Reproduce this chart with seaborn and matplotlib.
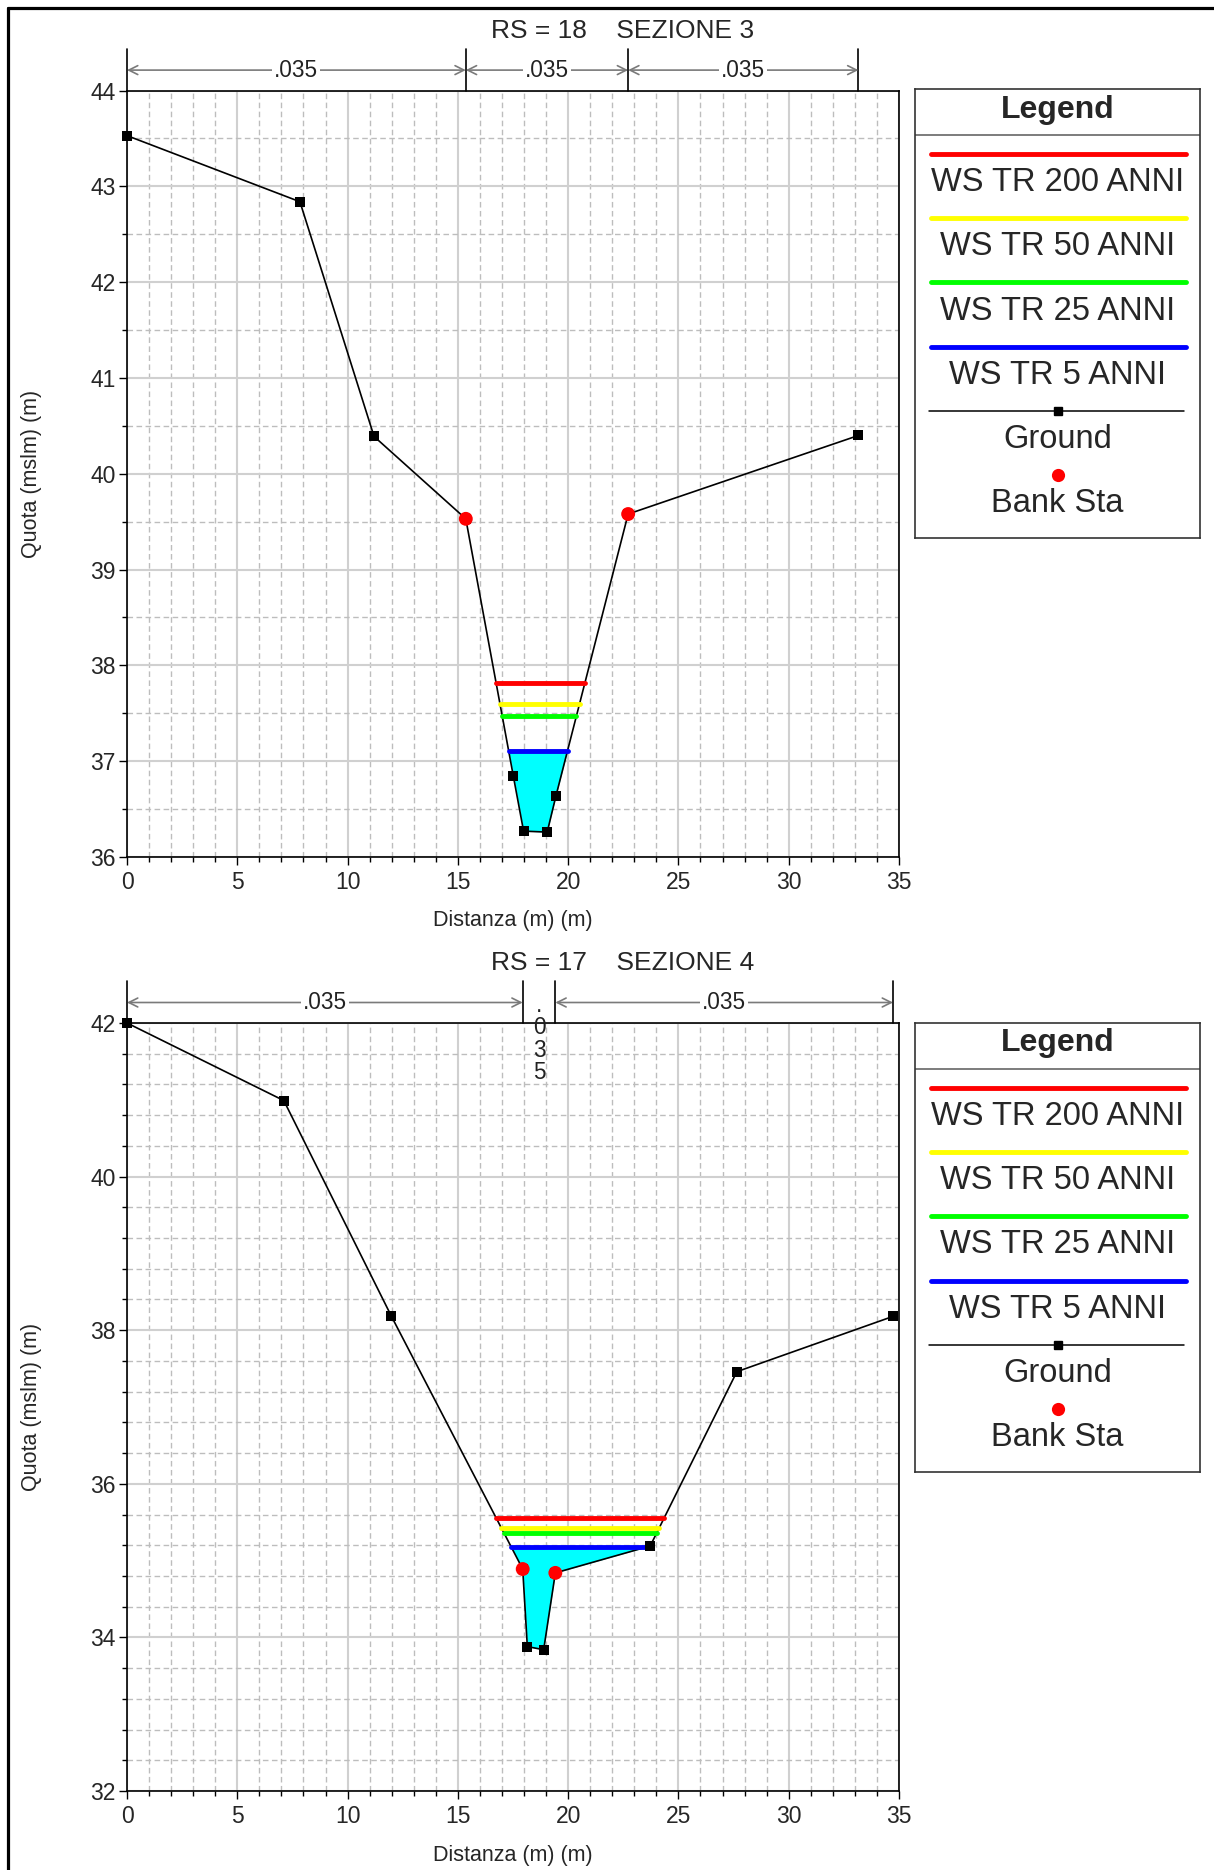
import numpy as np
import matplotlib
matplotlib.use("Agg")
import matplotlib.pyplot as plt
import seaborn as sns
from matplotlib.ticker import MultipleLocator
from matplotlib.lines import Line2D

# ---------------- data ----------------
titles = ["RS = 18    SEZIONE 3", "RS = 17    SEZIONE 4"]

sta1 = [0.0, 7.84, 11.2, 15.36, 17.51, 17.98, 19.05, 19.45, 22.72, 33.16]
elev1 = [43.53, 42.84, 40.39, 39.53, 36.85, 36.27, 36.26, 36.64, 39.58, 40.40]
bank1 = [15.36, 22.72]
ws1 = [37.82, 37.60, 37.47, 37.11]

sta2 = [0.0, 7.11, 11.99, 17.94, 18.15, 18.89, 19.42, 23.72, 27.65, 34.73]
elev2 = [42.0, 40.99, 38.18, 34.89, 33.88, 33.84, 34.84, 35.19, 37.46, 38.18]
bank2 = [17.94, 19.42]
ws2 = [35.55, 35.43, 35.36, 35.18]

n_values = [".035", ".035", ".035"]

ws_labels = ["WS TR 200 ANNI", "WS TR 50 ANNI", "WS TR 25 ANNI", "WS TR 5 ANNI"]
ws_colors = ["#FF0000", "#FFFF00", "#00FF00", "#0000FF"]

x_ticks = [0, 5, 10, 15, 20, 25, 30, 35]

# ---------------- style ----------------
sns.set_style("white")
plt.rcParams["font.family"] = ["Liberation Sans", "DejaVu Sans"]

W, H = 1214, 1870
fig = plt.figure(figsize=(W / 100, H / 100), dpi=100)


def fx(px):
    return px / W


def fy(py):
    return 1 - py / H


def crossing(sta, elev, w):
    sta = np.asarray(sta)
    elev = np.asarray(elev)
    i0 = int(np.argmin(elev))
    i = i0
    while i > 0 and elev[i - 1] < w:
        i -= 1
    j = i - 1
    xl = sta[j] + (w - elev[j]) / (elev[i] - elev[j]) * (sta[i] - sta[j])
    k = i0
    while k < len(sta) - 1 and elev[k + 1] < w:
        k += 1
    m = k + 1
    xr = sta[k] + (w - elev[k]) / (elev[m] - elev[k]) * (sta[m] - sta[k])
    return xl, xr


sections = [
    dict(title=titles[0], sta=sta1, elev=elev1, bank=bank1, ws=ws1,
         ylim=(36, 44), ymaj=1, ymin=0.5, top=90.6, bot=857.0,
         ltop=89.4),
    dict(title=titles[1], sta=sta2, elev=elev2, bank=bank2, ws=ws2,
         ylim=(32, 42), ymaj=2, ymin=0.4, top=1023.0, bot=1791.0,
         ltop=1023.2),
]

for sec in sections:
    top, bot = sec["top"], sec["bot"]
    hpx = bot - top
    ax = fig.add_axes([fx(127), fy(bot), (899 - 127) / W, hpx / H])
    ax.set_xlim(0, 35)
    ax.set_ylim(*sec["ylim"])
    ax.set_axisbelow(True)

    sta = np.asarray(sec["sta"])
    elev = np.asarray(sec["elev"])

    # water fill (lowest profile)
    w_low = sec["ws"][-1]
    xl, xr = crossing(sta, elev, w_low)
    xx = np.linspace(xl, xr, 600)
    gg = np.interp(xx, sta, elev)
    ax.fill_between(xx, gg, w_low, color="#00FFFF", lw=0, zorder=2)

    # ground line
    sns.lineplot(x=sta, y=elev, ax=ax, color="black", lw=1.2, sort=False,
                 zorder=3, legend=False)

    # water surfaces
    for w, c in zip(sec["ws"], ws_colors):
        a, b = crossing(sta, elev, w)
        sns.lineplot(x=[a, b], y=[w, w], ax=ax, color=c, lw=3.5,
                     solid_capstyle="round", zorder=4, legend=False)

    # ground points
    sns.scatterplot(x=sta, y=elev, ax=ax, marker="s", color="black", s=42,
                    edgecolor="black", linewidth=0, zorder=6, clip_on=False,
                    legend=False)
    # bank stations
    bank_elev = np.interp(sec["bank"], sta, elev)
    sns.scatterplot(x=sec["bank"], y=bank_elev, ax=ax, color="#FF0000",
                    s=100, edgecolor="none", linewidth=0, zorder=7,
                    clip_on=False, legend=False)

    # axes styling
    ax.set_xticks(x_ticks)
    ax.xaxis.set_minor_locator(MultipleLocator(1))
    ax.yaxis.set_major_locator(MultipleLocator(sec["ymaj"]))
    ax.yaxis.set_minor_locator(MultipleLocator(sec["ymin"]))
    ax.grid(which="major", color="#d0d0d0", lw=1.5, ls="-")
    ax.grid(which="minor", color="#bdbdbd", lw=1.0, ls=(0, (4, 2.5)))
    ax.tick_params(axis="both", which="both", bottom=True, left=True,
                   top=False, right=False, direction="out", color="black")
    ax.tick_params(which="major", length=6, width=1.0, labelsize=16.5,
                   pad=2)
    ax.tick_params(which="minor", length=3.8, width=1.0)
    ax.tick_params(axis="x", which="major", pad=4)
    for sp in ax.spines.values():
        sp.set_color("black")
        sp.set_linewidth(1.2)
        sp.set_visible(True)

    ax.set_xlabel("Distanza (m) (m)", fontsize=15.5, va="center")
    ax.xaxis.set_label_coords(0.5, -(921 - 857) / 766.4)
    ax.set_ylabel("Quota (mslm) (m)", fontsize=15.5, va="center")
    ax.yaxis.set_label_coords((32 - 127) / 772, 0.5)

    # title
    fig.text(fx(623), fy(top - 59.5), sec["title"], fontsize=19,
             ha="center", va="center")

    # Manning's n regions
    divs = [sta[0]] + list(sec["bank"]) + [sta[-1]]
    tr = ax.get_xaxis_transform()
    y_div = 1 + 42 / hpx
    y_arr = 1 + 20.5 / hpx
    for d in divs:
        ax.add_line(Line2D([d, d], [1.0, y_div], transform=tr, color="black",
                           lw=1.2, clip_on=False))
    for k in range(len(divs) - 1):
        a, b = divs[k], divs[k + 1]
        if b - a > 3:
            ax.annotate("", xy=(b, y_arr), xytext=(a, y_arr), xycoords=tr,
                        textcoords=tr,
                        arrowprops=dict(arrowstyle="<->", color="#7a7a7a",
                                        lw=1.2, shrinkA=0, shrinkB=0,
                                        mutation_scale=16),
                        annotation_clip=False)
            ax.text((a + b) / 2, y_arr, n_values[k], transform=tr,
                    fontsize=16.3, ha="center", va="center", color="#222222",
                    bbox=dict(facecolor="white", edgecolor="none", pad=1.5),
                    zorder=10, clip_on=False)
        else:
            ax.text((a + b) / 2, 1 - 16 / hpx, "\n".join(n_values[k]),
                    transform=tr, fontsize=16.3, ha="center", va="center",
                    color="#222222", linespacing=0.95, zorder=10,
                    clip_on=False)

    # legend panel
    ltop = sec["ltop"]
    lh = 448.4
    lax = fig.add_axes([fx(915), fy(ltop + lh), 285 / W, lh / H])
    lax.set_xlim(0, 1)
    lax.set_ylim(0, 1)
    lax.set_xticks([])
    lax.set_yticks([])
    for sp in lax.spines.values():
        sp.set_visible(True)
        sp.set_color("#333333")
        sp.set_linewidth(1.2)
    lax.text(0.5, 1 - 20.3 / lh, "Legend", fontsize=23, fontweight="bold",
             ha="center", va="center")
    lax.plot([0, 1], [1 - 45.4 / lh] * 2, color="#666666", lw=1.2)
    y0 = 1 - 64.4 / lh
    step = 64.3 / lh
    lab_off = 28.7 / lh
    for i, (lbl, c) in enumerate(zip(ws_labels, ws_colors)):
        yy = y0 - i * step
        lax.plot([0.055, 0.95], [yy, yy], color=c, lw=3.5,
                 solid_capstyle="round")
        lax.text(0.5, yy - lab_off, lbl, fontsize=23.5, ha="center",
                 va="center")
    yy = y0 - 4 * step
    lax.plot([0.05, 0.945], [yy, yy], color="black", lw=1.1)
    lax.plot([0.5], [yy], marker="s", color="black", markersize=6)
    lax.text(0.5, yy - lab_off, "Ground", fontsize=23.5, ha="center",
             va="center")
    yy = y0 - 5 * step
    lax.plot([0.5], [yy], marker="o", color="#FF0000", markersize=9.5,
             markeredgewidth=0)
    lax.text(0.5, yy - lab_off, "Bank Sta", fontsize=23.5, ha="center",
             va="center")

# outer frame (left and top edges)
fig.add_artist(Line2D([fx(7.5), fx(7.5)], [fy(7.5), 0], color="black",
                      lw=2.3, transform=fig.transFigure))
fig.add_artist(Line2D([fx(7.5), 1], [fy(7.5), fy(7.5)], color="black",
                      lw=2.3, transform=fig.transFigure))

fig.savefig("out.png", dpi=100)
